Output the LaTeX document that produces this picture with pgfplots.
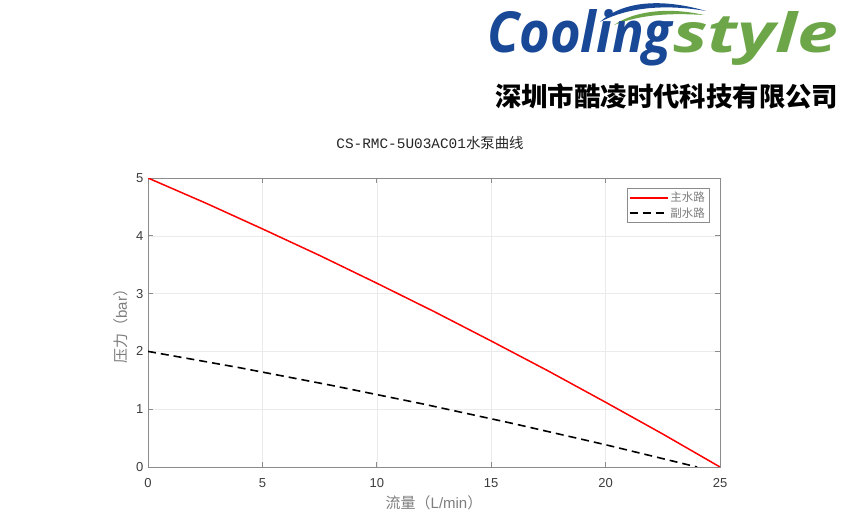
\documentclass[border=0pt]{standalone}
\usepackage{fontspec}
\setmainfont{Liberation Sans}
\newfontfamily\cjk{Noto Sans CJK SC}
\newfontfamily\mono{Liberation Mono}
\newfontfamily\logofont{Open Sans}
\usepackage{graphicx}
\usepackage{pgfplots}
\pgfplotsset{compat=1.18}
\definecolor{logoblue}{RGB}{24,72,150}
\definecolor{logogreen}{RGB}{108,166,72}
\definecolor{axgray}{RGB}{140,140,140}
\definecolor{lblgray}{RGB}{125,125,125}
\definecolor{tickgray}{RGB}{60,60,60}
\begin{document}
\begin{tikzpicture}[x=1pt,y=1pt]
\path[use as bounding box] (0,0) rectangle (847,525);
\coordinate (O) at (148,58);
% logo
\fill[logoblue] (600,503) .. controls (622,524) and (662,527) .. (706,514) .. controls (666,521) and (628,518) .. cycle;
\fill[logogreen] (614,500) .. controls (637,516) and (674,517) .. (704,510) .. controls (672,512) and (642,511) .. cycle;
\node[anchor=base west, inner sep=0pt, text=logoblue] at (487,472) {\resizebox{185pt}{43pt}{\logofont\bfseries\itshape Cooling}};
\node[anchor=base west, inner sep=0pt, text=logogreen] at (673,472) {\resizebox{165pt}{41pt}{\logofont\bfseries\itshape style}};
\node[anchor=west, inner sep=0pt] at (495,429) {\resizebox{343pt}{!}{\cjk\bfseries 深圳市酷凌时代科技有限公司}};
% title
\node[anchor=center, inner sep=0pt, text=black!85] at (430,382) {\fontsize{14.4}{14.4}\selectfont{\mono CS-RMC-5U03AC01}{\cjk 水泵曲线}};
\begin{axis}[
  at={(O)}, anchor=south west,
  width=572pt, height=289pt, scale only axis,
  xmin=0, xmax=25, ymin=0, ymax=5,
  xtick={0,5,10,15,20,25}, ytick={0,1,2,3,4,5},
  grid=major, major grid style={black!8, line width=0.6pt},
  axis line style={axgray, line width=0.8pt},
  tick style={axgray, line width=0.8pt},
  tick align=inside, major tick length=5pt,
  /pgf/number format/assume math mode=true,
  ticklabel style={font=\fontsize{13}{13}\selectfont, text=tickgray},
  xticklabel style={yshift=-8pt},
  yticklabel style={xshift=-1pt},
  xlabel={{\cjk 流量（}L/min{\cjk ）}},
  ylabel={{\cjk 压力（}bar{\cjk ）}},
  label style={font=\fontsize{15}{15}\selectfont, text=lblgray},
  xlabel style={yshift=-1pt},
  ylabel style={yshift=1pt},
  legend style={at={(1,1)}, anchor=north east, xshift=-11pt, yshift=-10pt,
    draw=axgray, font=\cjk\fontsize{11.5}{13}\selectfont, text=lblgray,
    inner xsep=2pt, inner ysep=2pt, cells={anchor=west}},
]
\addplot[red, line width=1.5pt,
  legend image code/.code={\draw[red, line width=1.5pt] (0pt,0pt) -- (38pt,0pt);}] coordinates {
  (0,5) (2.5,4.57) (5,4.12) (7.5,3.66) (10,3.18) (12.5,2.69) (15,2.18) (17.5,1.66) (20,1.12) (22.5,0.57) (25,0)
};
\addlegendentry{主水路}
\addplot[black, line width=1.6pt, dash pattern=on 8pt off 5pt,
  legend image code/.code={\draw[black, line width=1.6pt, dash pattern=on 8pt off 5pt] (0pt,0pt) -- (38pt,0pt);}] coordinates {
  (0,2) (4,1.718) (8,1.414) (12,1.092) (16,0.748) (20,0.385) (24,0)
};
\addlegendentry{副水路}
\end{axis}
\end{tikzpicture}
\end{document}
